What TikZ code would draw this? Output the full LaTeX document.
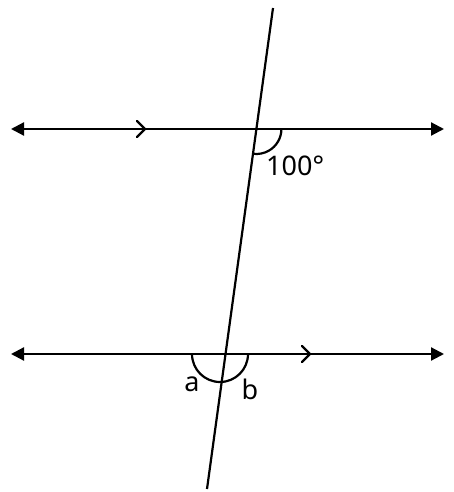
\documentclass[tikz,border=0pt]{standalone}
\usepackage{fontspec}
\setmainfont{Noto Sans}
\usetikzlibrary{arrows.meta,calc}
\begin{document}
\begin{tikzpicture}[x=1pt,y=-1pt,
  ln/.style={line width=2.2pt,black},
  chev/.style={line width=2.2pt,line cap=round,line join=miter},
  lbl/.style={font=\fontsize{27}{31}\selectfont,inner sep=0pt}]
\useasboundingbox (0,0) rectangle (454,492);
\coordinate (TL) at (11,129);
\coordinate (TR) at (444,129);
\coordinate (BL) at (11,354);
\coordinate (BR) at (444,354);
\coordinate (P1) at (273,8);
\coordinate (P2) at (207,489);
\coordinate (X1) at (256.4,129);
\coordinate (X2) at (225.3,354);
% horizontal lines
\draw[ln,{Triangle[length=13pt,width=13pt]}-{Triangle[length=13pt,width=13pt]}] (TL) -- (TR);
\draw[ln,{Triangle[length=13pt,width=13pt]}-{Triangle[length=13pt,width=13pt]}] (BL) -- (BR);
% transversal
\draw[ln] (P1) -- (P2);
% parallel chevrons
\draw[chev] (137,121) -- (145,129) -- (137,137);
\draw[chev] (302,346) -- (310,354) -- (302,362);
% angle arcs
\draw[ln] ($(X1)+(25,0)$) arc[start angle=0,end angle=98,radius=25];
\draw[ln] (192,354) arc[start angle=180,end angle=0,radius=28];
% labels
\node[lbl,anchor=west] (l100) at (266,166) {100°};
\node[lbl] (la) at (192,384) {a};
\node[lbl] (lb) at (250,389) {b};
\end{tikzpicture}
\end{document}
